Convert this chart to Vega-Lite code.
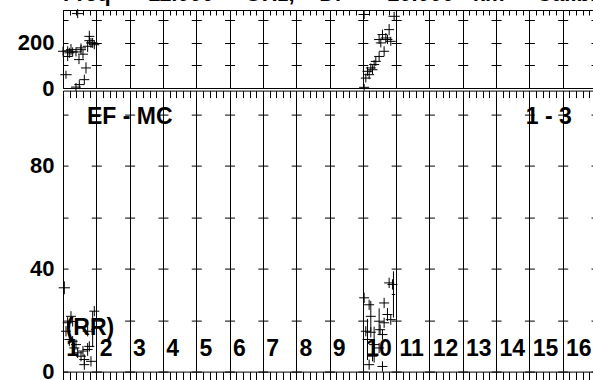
{
  "$schema": "https://vega.github.io/schema/vega-lite/v6.json",
  "padding": {"left": 16, "top": -17, "right": 0, "bottom": 0},
  "background": "white",
  "title": {"text": "Freq\u00a0\u00a0=\u00a0\u00a011.000\u00a0\u00a0\u00a0\u00a0\u00a0GHz,\u00a0\u00a0\u00a0\u00a0Dr\u00a0\u00a0=\u00a0\u00a0\u00a010.000\u00a0\u00a0\u00a0km\u00a0\u00a0-\u00a0\u00a0Calibrated", "anchor": "start", "frame": "group", "font": "Liberation Sans", "fontSize": 22, "fontWeight": "bold", "baseline": "alphabetic", "offset": -15, "color": "black"},
  "spacing": 2.6,
  "bounds": "flush",
  "datasets": {
    "top": [
      {"x": 0.44, "y": 330, "ex": 0.17, "ey": 20},
      {"x": 0.09, "y": 59, "ex": 0.17, "ey": 18},
      {"x": 0.24, "y": 170, "ex": 0.15, "ey": 25},
      {"x": 0.19, "y": 156, "ex": 0.15, "ey": 22},
      {"x": 0.14, "y": 165, "ex": 0.15, "ey": 20},
      {"x": 0.29, "y": 160, "ex": 0.15, "ey": 20},
      {"x": 0.39, "y": 160, "ex": 0.15, "ey": 20},
      {"x": 0.54, "y": 170, "ex": 0.15, "ey": 20},
      {"x": 0.48, "y": 126, "ex": 0.15, "ey": 20},
      {"x": 0.69, "y": 89, "ex": 0.15, "ey": 25},
      {"x": 0.64, "y": 37, "ex": 0.15, "ey": 22},
      {"x": 0.49, "y": 15, "ex": 0.15, "ey": 20},
      {"x": 0.39, "y": 4, "ex": 0.15, "ey": 18},
      {"x": 0.79, "y": 229, "ex": 0.15, "ey": 25},
      {"x": 0.84, "y": 200, "ex": 0.15, "ey": 22},
      {"x": 0.89, "y": 200, "ex": 0.15, "ey": 22},
      {"x": 0.74, "y": 185, "ex": 0.15, "ey": 25},
      {"x": 0.94, "y": 192, "ex": 0.15, "ey": 20},
      {"x": 0.79, "y": 210, "ex": 0.15, "ey": 20},
      {"x": 0.54, "y": 178, "ex": 0.15, "ey": 20},
      {"x": 0.0, "y": 163, "ex": 0.15, "ey": 20},
      {"x": 0.14, "y": 140, "ex": 0.15, "ey": 20},
      {"x": 0.6, "y": 150, "ex": 0.15, "ey": 20},
      {"x": 9.04, "y": 326, "ex": 0.17, "ey": 20},
      {"x": 9.94, "y": 318, "ex": 0.17, "ey": 20},
      {"x": 9.59, "y": 237, "ex": 0.15, "ey": 22},
      {"x": 9.69, "y": 222, "ex": 0.15, "ey": 22},
      {"x": 9.74, "y": 215, "ex": 0.15, "ey": 20},
      {"x": 9.49, "y": 215, "ex": 0.15, "ey": 20},
      {"x": 9.79, "y": 259, "ex": 0.15, "ey": 25},
      {"x": 9.84, "y": 207, "ex": 0.15, "ey": 20},
      {"x": 9.54, "y": 200, "ex": 0.15, "ey": 20},
      {"x": 9.64, "y": 163, "ex": 0.15, "ey": 22},
      {"x": 9.49, "y": 140, "ex": 0.15, "ey": 22},
      {"x": 9.39, "y": 118, "ex": 0.15, "ey": 20},
      {"x": 9.34, "y": 104, "ex": 0.15, "ey": 20},
      {"x": 9.24, "y": 89, "ex": 0.15, "ey": 20},
      {"x": 9.29, "y": 81, "ex": 0.15, "ey": 20},
      {"x": 9.14, "y": 74, "ex": 0.15, "ey": 20},
      {"x": 9.19, "y": 59, "ex": 0.15, "ey": 20},
      {"x": 9.09, "y": 44, "ex": 0.15, "ey": 20},
      {"x": 9.04, "y": 3, "ex": 0.15, "ey": 15}
    ],
    "bot": [
      {"x": 0.04, "y": 32.6, "ex": 0.17, "ey": 2.5},
      {"x": 0.24, "y": 21.5, "ex": 0.15, "ey": 2},
      {"x": 0.14, "y": 19, "ex": 0.15, "ey": 2.2},
      {"x": 0.29, "y": 19.5, "ex": 0.15, "ey": 2},
      {"x": 0.09, "y": 15.7, "ex": 0.15, "ey": 2},
      {"x": 0.19, "y": 12.5, "ex": 0.15, "ey": 2.5},
      {"x": 0.29, "y": 11.8, "ex": 0.15, "ey": 2},
      {"x": 0.34, "y": 9.2, "ex": 0.15, "ey": 2},
      {"x": 0.44, "y": 7.3, "ex": 0.15, "ey": 2},
      {"x": 0.54, "y": 6, "ex": 0.15, "ey": 2},
      {"x": 0.64, "y": 4.7, "ex": 0.15, "ey": 2},
      {"x": 0.64, "y": 2.7, "ex": 0.15, "ey": 2},
      {"x": 0.6, "y": 8, "ex": 0.15, "ey": 2},
      {"x": 0.74, "y": 8.6, "ex": 0.15, "ey": 2.5},
      {"x": 0.79, "y": 9.8, "ex": 0.15, "ey": 2},
      {"x": 0.84, "y": 4, "ex": 0.15, "ey": 2},
      {"x": 0.94, "y": 23.5, "ex": 0.15, "ey": 2},
      {"x": 0.74, "y": 15.7, "ex": 0.15, "ey": 2},
      {"x": 0.89, "y": 16.5, "ex": 0.05, "ey": 7},
      {"x": 0.39, "y": 10.5, "ex": 0.15, "ey": 2},
      {"x": 9.79, "y": 34.5, "ex": 0.15, "ey": 2},
      {"x": 9.89, "y": 33.9, "ex": 0.15, "ey": 2},
      {"x": 9.04, "y": 28.7, "ex": 0.15, "ey": 2},
      {"x": 9.19, "y": 26, "ex": 0.15, "ey": 2},
      {"x": 9.64, "y": 26.7, "ex": 0.15, "ey": 2},
      {"x": 9.24, "y": 21.5, "ex": 0.15, "ey": 6},
      {"x": 9.74, "y": 22.2, "ex": 0.15, "ey": 2.5},
      {"x": 9.84, "y": 20.2, "ex": 0.15, "ey": 2},
      {"x": 9.49, "y": 19.6, "ex": 0.15, "ey": 5},
      {"x": 9.64, "y": 19, "ex": 0.15, "ey": 2},
      {"x": 9.09, "y": 15.7, "ex": 0.15, "ey": 2},
      {"x": 9.24, "y": 15.3, "ex": 0.15, "ey": 2},
      {"x": 9.52, "y": 16.3, "ex": 0.15, "ey": 2},
      {"x": 9.14, "y": 12.5, "ex": 0.15, "ey": 8},
      {"x": 9.59, "y": 14.4, "ex": 0.15, "ey": 2},
      {"x": 9.34, "y": 10.5, "ex": 0.15, "ey": 7},
      {"x": 9.49, "y": 9.2, "ex": 0.15, "ey": 2},
      {"x": 9.19, "y": 2.7, "ex": 0.15, "ey": 2},
      {"x": 9.59, "y": 2, "ex": 0.15, "ey": 2},
      {"x": 9.29, "y": 6, "ex": 0.15, "ey": 2},
      {"x": 9.92, "y": 30, "ex": 0.05, "ey": 9}
    ],
    "labels": [
      {"label": "EF - MC", "x": 0.72, "y": 99.2},
      {"label": "1 - 3", "x": 13.89, "y": 99.2},
      {"label": "(RR)", "x": 0.08, "y": 17.1},
      {"label": "1", "x": 0.1, "y": 8.6},
      {"label": "2", "x": 1.1, "y": 8.6},
      {"label": "3", "x": 2.1, "y": 8.6},
      {"label": "4", "x": 3.1, "y": 8.6},
      {"label": "5", "x": 4.1, "y": 8.6},
      {"label": "6", "x": 5.1, "y": 8.6},
      {"label": "7", "x": 6.1, "y": 8.6},
      {"label": "8", "x": 7.1, "y": 8.6},
      {"label": "9", "x": 8.1, "y": 8.6},
      {"label": "10", "x": 9.1, "y": 8.6},
      {"label": "11", "x": 10.1, "y": 8.6},
      {"label": "12", "x": 11.1, "y": 8.6},
      {"label": "13", "x": 12.1, "y": 8.6},
      {"label": "14", "x": 13.1, "y": 8.6},
      {"label": "15", "x": 14.1, "y": 8.6},
      {"label": "16", "x": 15.1, "y": 8.6}
    ]
  },
  "vconcat": [
    {
      "width": 533,
      "height": 78,
      "data": {"name": "top"},
      "encoding": {
        "x": {"field": "x", "type": "quantitative", "scale": {"domain": [0, 16], "nice": false, "zero": false},
          "axis": {"orient": "top", "values": [0,0.2,0.4,0.6,0.8,1,1.2,1.4,1.6,1.8,2,2.2,2.4,2.6,2.8,3,3.2,3.4,3.6,3.8,4,4.2,4.4,4.6,4.8,5,5.2,5.4,5.6,5.8,6,6.2,6.4,6.6,6.8,7,7.2,7.4,7.6,7.8,8,8.2,8.4,8.6,8.8,9,9.2,9.4,9.6,9.8,10,10.2,10.4,10.6,10.8,11,11.2,11.4,11.6,11.8,12,12.2,12.4,12.6,12.8,13,13.2,13.4,13.6,13.8,14,14.2,14.4,14.6,14.8,15,15.2,15.4,15.6,15.8,16],
            "tickSize": -5, "labels": false, "domain": false, "title": null, "grid": true,
            "gridOpacity": {"condition": {"test": "abs(datum.value - round(datum.value)) < 0.001", "value": 1}, "value": 0}}},
        "y": {"field": "y", "type": "quantitative", "scale": {"domain": [0, 346], "nice": false},
          "axis": {"values": [0, 100, 200, 300], "labelExpr": "datum.value == 0 || datum.value == 200 ? datum.label : ''", "ticks": false, "labelPadding": 9, "domain": false, "title": null, "grid": true, "gridDash": [10, 23.3125], "gridDashOffset": 5}}
      },
      "layer": [
        {"mark": {"type": "errorbar", "ticks": false, "color": "black"}, "encoding": {"xError": {"field": "ex"}}},
        {"mark": {"type": "errorbar", "ticks": false, "color": "black"}, "encoding": {"yError": {"field": "ey"}}}
      ]
    },
    {
      "width": 533,
      "height": 281,
      "layer": [
        {
          "data": {"name": "bot"},
          "encoding": {
            "x": {"field": "x", "type": "quantitative", "scale": {"domain": [0, 16], "nice": false, "zero": false},
              "axis": {"orient": "top", "values": [0,0.2,0.4,0.6,0.8,1,1.2,1.4,1.6,1.8,2,2.2,2.4,2.6,2.8,3,3.2,3.4,3.6,3.8,4,4.2,4.4,4.6,4.8,5,5.2,5.4,5.6,5.8,6,6.2,6.4,6.6,6.8,7,7.2,7.4,7.6,7.8,8,8.2,8.4,8.6,8.8,9,9.2,9.4,9.6,9.8,10,10.2,10.4,10.6,10.8,11,11.2,11.4,11.6,11.8,12,12.2,12.4,12.6,12.8,13,13.2,13.4,13.6,13.8,14,14.2,14.4,14.6,14.8,15,15.2,15.4,15.6,15.8,16],
                "tickSize": -7, "labels": false, "domain": false, "title": null, "grid": true,
                "gridOpacity": {"condition": {"test": "abs(datum.value - round(datum.value)) < 0.001", "value": 1}, "value": 0}}},
            "y": {"field": "y", "type": "quantitative", "scale": {"domain": [0, 109.3], "nice": false},
              "axis": {"values": [0, 20, 40, 60, 80, 100], "labelExpr": "datum.value == 0 || datum.value == 40 || datum.value == 80 ? datum.label : ''", "ticks": false, "labelPadding": 9, "domain": false, "title": null, "grid": true, "gridDash": [10, 23.3125], "gridDashOffset": 5}}
          },
          "layer": [
            {"mark": {"type": "errorbar", "ticks": false, "color": "black"}, "encoding": {"xError": {"field": "ex"}}},
            {"mark": {"type": "errorbar", "ticks": false, "color": "black"}, "encoding": {"yError": {"field": "ey"}}}
          ]
        },
        {
          "data": {"name": "labels"},
          "mark": {"type": "text", "align": "left", "baseline": "middle", "font": "Liberation Sans", "fontSize": 23, "fontWeight": "bold", "color": "black"},
          "encoding": {
            "x": {"field": "x", "type": "quantitative",
              "axis": {"orient": "bottom", "values": [0,0.2,0.4,0.6,0.8,1,1.2,1.4,1.6,1.8,2,2.2,2.4,2.6,2.8,3,3.2,3.4,3.6,3.8,4,4.2,4.4,4.6,4.8,5,5.2,5.4,5.6,5.8,6,6.2,6.4,6.6,6.8,7,7.2,7.4,7.6,7.8,8,8.2,8.4,8.6,8.8,9,9.2,9.4,9.6,9.8,10,10.2,10.4,10.6,10.8,11,11.2,11.4,11.6,11.8,12,12.2,12.4,12.6,12.8,13,13.2,13.4,13.6,13.8,14,14.2,14.4,14.6,14.8,15,15.2,15.4,15.6,15.8,16],
                "tickSize": 8, "labels": false, "domain": false, "title": null, "grid": false}},
            "y": {"field": "y", "type": "quantitative",
              "axis": {"values": [0, 20, 40, 60, 80, 100], "labelExpr": "datum.value == 0 || datum.value == 40 || datum.value == 80 ? datum.label : ''", "ticks": false, "labelPadding": 9, "domain": false, "title": null, "grid": true, "gridDash": [10, 23.3125], "gridDashOffset": 5}},
            "text": {"field": "label"}
          }
        }
      ],
      "resolve": {"axis": {"x": "independent"}}
    }
  ],
  "config": {
    "view": {"stroke": "black", "strokeWidth": 1},
    "axis": {"domainColor": "black", "tickColor": "black", "gridColor": "black", "gridWidth": 1, "tickWidth": 1, "labelFont": "Liberation Sans", "labelFontSize": 22, "labelFontWeight": "bold", "labelColor": "black"}
  }
}
